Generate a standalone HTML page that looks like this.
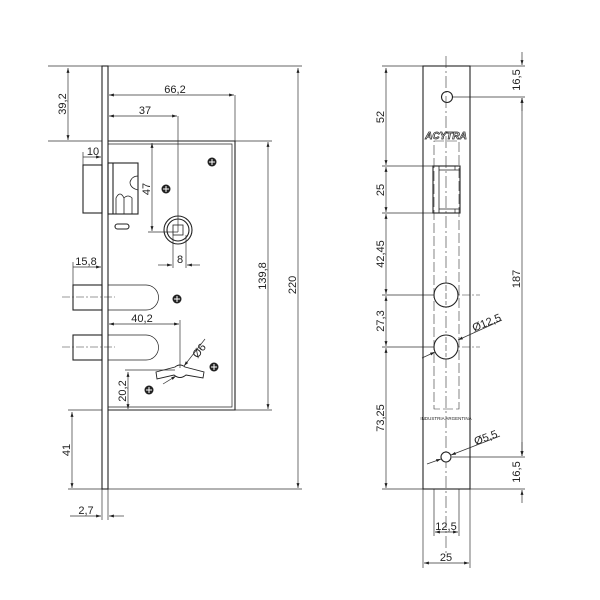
<!DOCTYPE html>
<html><head><meta charset="utf-8"><style>
html,body{margin:0;padding:0;background:#fff;width:600px;height:600px;overflow:hidden}
svg text{font-family:"Liberation Sans",sans-serif;font-size:11px;fill:#222}
</style></head><body>
<svg width="600" height="600" viewBox="0 0 600 600" xmlns="http://www.w3.org/2000/svg">
<defs>
<marker id="a" viewBox="0 0 10 10" refX="10" refY="5" markerWidth="7" markerHeight="7" orient="auto-start-reverse"><path d="M0,2 L10,5 L0,8 z" fill="#222"/></marker>
<g id="scr"><circle r="4.5" fill="#222"/><path d="M-3,0H3M0,-3V3" stroke="#fff" stroke-width="1"/></g>
</defs>
<g stroke="#333" stroke-width="0.7" fill="none">
<line x1="48" y1="66" x2="302" y2="66"/>
<line x1="48" y1="141" x2="108" y2="141"/>
<line x1="235" y1="141" x2="272" y2="141"/>
<line x1="68" y1="410" x2="272" y2="410"/>
<line x1="68" y1="489" x2="302" y2="489"/>
<line x1="235" y1="95" x2="235" y2="141"/>
<line x1="178" y1="116" x2="178" y2="232"/>
<line x1="148" y1="232" x2="178" y2="232"/>
<line x1="173" y1="235" x2="173" y2="268"/>
<line x1="186" y1="235" x2="186" y2="268"/>
<line x1="83" y1="152" x2="83" y2="165"/>
<line x1="73" y1="262" x2="73" y2="285"/>
<line x1="180" y1="320" x2="180" y2="368"/>
<line x1="125" y1="370" x2="175" y2="370"/>
<line x1="102" y1="489" x2="102" y2="520"/>
<line x1="108" y1="489" x2="108" y2="520"/>
<g marker-start="url(#a)" marker-end="url(#a)">
<line x1="68" y1="68" x2="68" y2="140"/>
<line x1="109" y1="95" x2="234" y2="95"/>
<line x1="109" y1="116" x2="177" y2="116"/>
<line x1="152" y1="143" x2="152" y2="231"/>
<line x1="268" y1="142" x2="268" y2="409"/>
<line x1="298" y1="68" x2="298" y2="488"/>
<line x1="128" y1="372" x2="128" y2="409"/>
<line x1="72" y1="412" x2="72" y2="488"/>
<line x1="109" y1="324" x2="179" y2="324"/>
</g>
<line x1="83" y1="157" x2="101" y2="157" marker-end="url(#a)"/>
<line x1="73" y1="267" x2="101" y2="267" marker-end="url(#a)"/>
<line x1="158" y1="265" x2="172" y2="265" marker-end="url(#a)"/>
<line x1="200" y1="265" x2="187" y2="265" marker-end="url(#a)"/>
<line x1="70" y1="516" x2="101" y2="516" marker-end="url(#a)"/>
<line x1="124" y1="516" x2="109" y2="516" marker-end="url(#a)"/>
<line x1="205" y1="339" x2="184" y2="366" marker-end="url(#a)"/>
<line x1="163" y1="384" x2="176" y2="376" marker-end="url(#a)"/>
</g>
<g stroke="#222" stroke-width="1.1" fill="none">
<rect x="102" y="66" width="6" height="423" fill="#fff"/>
<path d="M108,141 H235 V410 H108"/>
<path d="M108,144 H232 V407 H108" stroke-width="0.7"/>
<rect x="83" y="165" width="19" height="48"/>
<rect x="108" y="163" width="30" height="51"/>
<line x1="113" y1="163" x2="113" y2="214"/>
<path d="M116,214 V198 Q120,190 124,198 V214 M124,214 V198 Q128,194 132,198 V214 M138,190 Q130,188 130,182 Q132,176 138,176" stroke-width="0.8"/>
<rect x="115" y="224" width="14" height="5" rx="2.5"/>
<circle cx="178" cy="230" r="14"/>
<circle cx="178" cy="230" r="11"/>
<rect x="173" y="225" width="10" height="10" stroke-width="0.8"/>
<rect x="73" y="285" width="29" height="25"/>
<path d="M108,285 H146 A12.5,12.5 0 0 1 146,310 H108" stroke-width="0.7"/>
<rect x="73" y="335" width="29" height="25"/>
<path d="M108,335 H146 A12.5,12.5 0 0 1 146,360 H108" stroke-width="0.7"/>
<path d="M156,372 L175,367 Q180,363 185,367 L204,372 L203,378 L186,375 Q180,380 174,375 L157,379 Z" stroke-width="0.9"/>
</g>
<g stroke="#333" stroke-width="0.6" stroke-dasharray="8,2,2,2">
<line x1="62" y1="297" x2="115" y2="297"/>
<line x1="62" y1="347" x2="115" y2="347"/>
</g>
<use href="#scr" x="212" y="162"/>
<use href="#scr" x="166" y="189"/>
<use href="#scr" x="177" y="299"/>
<use href="#scr" x="214" y="367"/>
<use href="#scr" x="149" y="390"/>
<text x="175" y="93" text-anchor="middle">66,2</text>
<text x="145" y="114" text-anchor="middle">37</text>
<text x="93" y="155" text-anchor="middle">10</text>
<text x="86" y="265" text-anchor="middle">15,8</text>
<text x="180" y="263" text-anchor="middle">8</text>
<text x="142" y="322" text-anchor="middle">40,2</text>
<text x="86" y="514" text-anchor="middle">2,7</text>
<text transform="translate(66,104) rotate(-90)" text-anchor="middle">39,2</text>
<text transform="translate(150,189) rotate(-90)" text-anchor="middle">47</text>
<text transform="translate(266,276) rotate(-90)" text-anchor="middle">139,8</text>
<text transform="translate(296,285) rotate(-90)" text-anchor="middle">220</text>
<text transform="translate(126,391) rotate(-90)" text-anchor="middle">20,2</text>
<text transform="translate(70,450) rotate(-90)" text-anchor="middle">41</text>
<text transform="translate(202,353) rotate(-52)" text-anchor="middle">Ø6</text>

<g stroke="#333" stroke-width="0.7" fill="none">
<line x1="382" y1="66" x2="525" y2="66"/>
<line x1="452" y1="97" x2="525" y2="97"/>
<line x1="382" y1="166" x2="433" y2="166"/>
<line x1="382" y1="213" x2="433" y2="213"/>
<line x1="382" y1="295" x2="434" y2="295"/>
<line x1="382" y1="347" x2="434" y2="347"/>
<line x1="452" y1="457" x2="525" y2="457"/>
<line x1="382" y1="489" x2="525" y2="489"/>
<line x1="423" y1="489" x2="423" y2="568"/>
<line x1="470" y1="489" x2="470" y2="568"/>
<line x1="434" y1="489" x2="434" y2="536"/>
<line x1="459" y1="489" x2="459" y2="536"/>
<g marker-start="url(#a)" marker-end="url(#a)">
<line x1="386" y1="68" x2="386" y2="165"/>
<line x1="386" y1="167" x2="386" y2="212"/>
<line x1="386" y1="214" x2="386" y2="294"/>
<line x1="386" y1="296" x2="386" y2="346"/>
<line x1="386" y1="348" x2="386" y2="488"/>
<line x1="522" y1="98" x2="522" y2="456"/>
<line x1="435" y1="532" x2="458" y2="532"/>
<line x1="424" y1="563" x2="469" y2="563"/>
</g>
<line x1="522" y1="52" x2="522" y2="65" marker-end="url(#a)"/>
<line x1="522" y1="111" x2="522" y2="98" marker-end="url(#a)"/>
<line x1="522" y1="442" x2="522" y2="456" marker-end="url(#a)"/>
<line x1="522" y1="503" x2="522" y2="490" marker-end="url(#a)"/>
<line x1="502" y1="320" x2="458" y2="340" marker-end="url(#a)"/>
<line x1="422" y1="358" x2="435" y2="352" marker-end="url(#a)"/>
<line x1="500" y1="436" x2="451" y2="455" marker-end="url(#a)"/>
<line x1="427" y1="464" x2="441" y2="459" marker-end="url(#a)"/>
</g>
<g stroke="#222" stroke-width="1.1" fill="none">
<rect x="423" y="66" width="47" height="423"/>
<circle cx="447" cy="97" r="5.5"/>
<rect x="433" y="166" width="27" height="47"/>
<line x1="439" y1="166" x2="439" y2="213" stroke-width="0.8"/>
<line x1="439" y1="170" x2="460" y2="170" stroke-width="0.7"/>
<line x1="439" y1="209" x2="460" y2="209" stroke-width="0.7"/>
<line x1="455" y1="166" x2="455" y2="170" stroke-width="0.7"/>
<line x1="455" y1="209" x2="455" y2="213" stroke-width="0.7"/>
</g>
<g stroke="#333" stroke-width="0.6" fill="none">
<path d="M434,141 H459 V409 H434 Z" stroke-dasharray="10,3"/>
<line x1="446" y1="56" x2="446" y2="555" stroke-dasharray="12,3,2,3"/>
<line x1="434" y1="295" x2="480" y2="295" stroke-dasharray="8,2,2,2"/>
<line x1="434" y1="347" x2="480" y2="347" stroke-dasharray="8,2,2,2"/>
</g>
<g stroke="#222" stroke-width="1.1" fill="#fff">
<circle cx="446" cy="295" r="12"/>
<circle cx="446" cy="347" r="12"/>
<circle cx="446" cy="457" r="5"/>
</g>
<g stroke="#333" stroke-width="0.6">
<line x1="446" y1="285" x2="446" y2="305" stroke-dasharray="6,2"/>
<line x1="446" y1="337" x2="446" y2="357" stroke-dasharray="6,2"/>
</g>
<text x="446" y="139" text-anchor="middle" style="font-size:10px;font-style:italic;font-weight:bold;fill:#fff;stroke:#222;stroke-width:0.7">ACYTRA</text>
<text x="446" y="420" text-anchor="middle" style="font-size:4.5px">INDUSTRIA ARGENTINA</text>
<text transform="translate(384,117) rotate(-90)" text-anchor="middle">52</text>
<text transform="translate(384,190) rotate(-90)" text-anchor="middle">25</text>
<text transform="translate(384,254) rotate(-90)" text-anchor="middle">42,45</text>
<text transform="translate(384,321) rotate(-90)" text-anchor="middle">27,3</text>
<text transform="translate(384,418) rotate(-90)" text-anchor="middle">73,25</text>
<text transform="translate(520,80) rotate(-90)" text-anchor="middle">16,5</text>
<text transform="translate(520,279) rotate(-90)" text-anchor="middle">187</text>
<text transform="translate(520,472) rotate(-90)" text-anchor="middle">16,5</text>
<text transform="translate(488,326) rotate(-22)" text-anchor="middle">Ø12,5</text>
<text transform="translate(487,441) rotate(-20)" text-anchor="middle">Ø5,5</text>
<text x="446" y="530" text-anchor="middle">12,5</text>
<text x="446" y="561" text-anchor="middle">25</text>
</svg>
</body></html>
